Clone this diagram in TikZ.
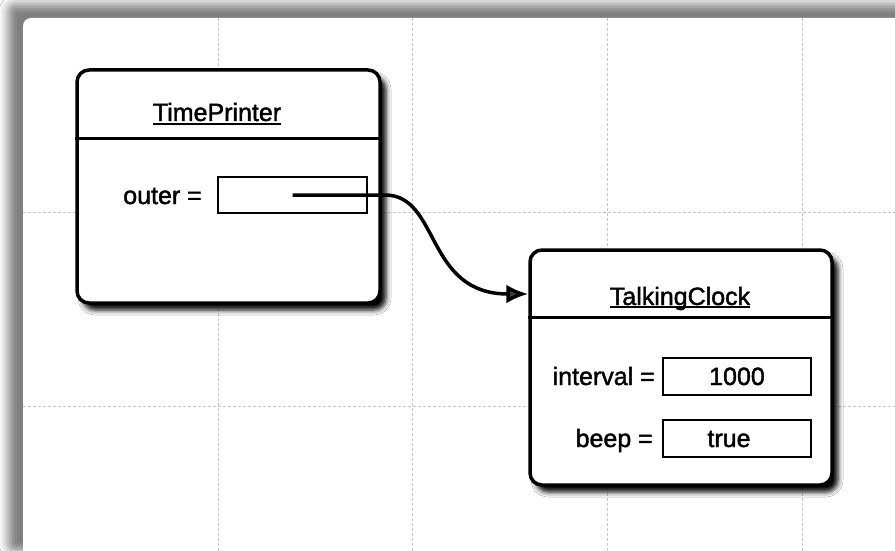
\documentclass[tikz,border=0pt]{standalone}
\usepackage{fontspec}
\setmainfont{Liberation Sans}
\newfontfamily\scanfont[FakeBold=1.6]{Liberation Sans}
\usetikzlibrary{arrows.meta, shadows.blur}

\tikzset{
  gridline/.style={gray!45, densely dashed, line width=0.9pt},
  objbox/.style={draw, line width=3.5pt, rounded corners=12pt, fill=white, inner sep=0pt,
    blur shadow={shadow xshift=6pt, shadow yshift=-7pt, shadow blur radius=5pt, shadow opacity=100}},
  fieldbox/.style={draw, line width=2.4pt, inner sep=0pt, minimum width=149pt, minimum height=36pt},
  label/.style={inner sep=0pt, font=\scanfont\fontsize{25}{30}\selectfont},
  link/.style={line width=3.5pt, -{Latex[length=22pt, width=19pt]}}
}

\begin{document}
\begin{tikzpicture}[x=1pt, y=-1pt]
  \useasboundingbox (0,0) rectangle (895,551);
  \clip (0,0) rectangle (895,551);
  \fill[white] (0,0) rectangle (895,551); % Background

  % Scanned page edge
  \fill[white, rounded corners=8pt, blur shadow={shadow xshift=-15pt, shadow yshift=14pt,
    shadow blur radius=9pt, shadow opacity=50}] (23,18) rectangle (930,565);

  % Graph paper grid
  \foreach \gx in {218,412,607,802}
    \draw[gridline] (\gx,18) -- (\gx,551);
  \foreach \gy in {212,406}
    \draw[gridline] (23,\gy) -- (895,\gy);

  % Object TimePrinter
  \node[objbox, minimum width=303pt, minimum height=233pt] (tp) at (228.5,186.5) {};
  \draw[line width=3pt] (tp.west |- 0,138) -- (tp.east |- 0,138); % Divider
  \node[label, anchor=base] (tptitle) at (217,121) {TimePrinter};
  \draw[line width=2pt] ([yshift=-3pt]tptitle.base west) -- ([yshift=-3pt]tptitle.base east);
  \node[label, anchor=base east] (outerlbl) at (202,204) {outer =};
  \node[fieldbox] (outerfield) at (292.5,195) {};

  % Object TalkingClock
  \node[objbox, minimum width=302pt, minimum height=235pt] (tc) at (681,367.5) {};
  \draw[line width=3pt] (tc.west |- 0,317) -- (tc.east |- 0,317); % Divider
  \node[label, anchor=base] (tctitle) at (680,305) {TalkingClock};
  \draw[line width=2pt] ([yshift=-2pt]tctitle.base west) -- ([yshift=-2pt]tctitle.base east);
  \node[label, anchor=base east] (intervallbl) at (655,385) {interval =};
  \node[fieldbox, minimum width=148pt, minimum height=37pt] (intervalfield) at (737,376.5) {};
  \node[label, anchor=base] (intervalval) at (737,385) {1000};
  \node[label, anchor=base east] (beeplbl) at (653,447) {beep =};
  \node[fieldbox, minimum width=148pt, minimum height=37pt] (beepfield) at (737,438.5) {};
  \node[label, anchor=base] (beepval) at (729,447) {true};

  % Reference outer -> TalkingClock
  \coordinate (tcin) at (tc.west |- 0,294);
  \draw[link] (outerfield.center) -- (385,195)
    .. controls (440,195) and (425,294) .. (tcin);
\end{tikzpicture}
\end{document}
